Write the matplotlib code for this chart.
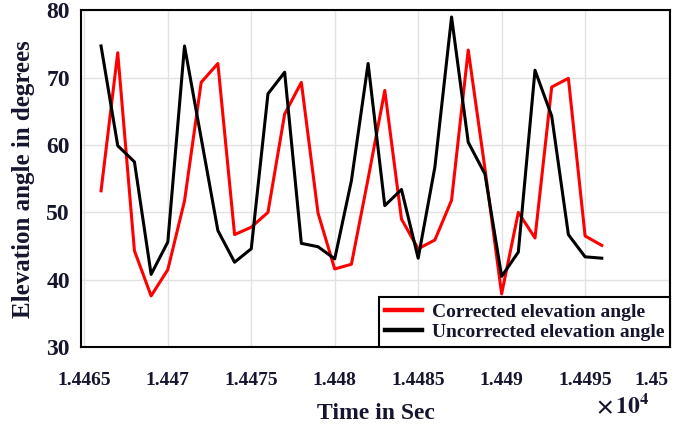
import matplotlib
matplotlib.use("Agg")
import matplotlib.pyplot as plt
from matplotlib.ticker import FuncFormatter

plt.rcParams["font.family"] = ["Liberation Serif", "DejaVu Serif"]
plt.rcParams["font.weight"] = "bold"
plt.rcParams["axes.labelweight"] = "bold"
plt.rcParams["mathtext.fontset"] = "stix"

# time in seconds, one sample per second
t = list(range(14466, 14497))
corrected = [53.2, 73.7, 44.3, 37.6, 41.5, 51.7, 69.3, 72.1, 46.7, 47.8,
             50.0, 64.6, 69.3, 49.9, 41.6, 42.3, 55.0, 68.1, 49.0, 44.6,
             45.9, 51.8, 74.1, 56.5, 37.9, 50.0, 46.2, 68.6, 69.9, 46.5, 45.1]
uncorrected = [74.7, 59.9, 57.5, 40.8, 45.6, 74.7, 61.0, 47.3, 42.6, 44.6,
               67.6, 70.8, 45.4, 44.9, 43.1, 54.7, 72.1, 51.0, 53.4, 43.2,
               56.7, 79.0, 60.4, 55.7, 40.5, 44.1, 71.1, 64.3, 46.7, 43.4, 43.2]
xticks = [14465, 14470, 14475, 14480, 14485, 14490, 14495, 14500]
yticks = [30, 40, 50, 60, 70, 80]

TXT = "#15152e"

fig = plt.figure(figsize=(6.78, 4.28), dpi=100)
ax = fig.add_axes([0.1195, 0.189, 0.869, 0.787])

ax.plot(t, corrected, color="#ff0000", lw=2.2, label="Corrected elevation angle")
ax.plot(t, uncorrected, color="#000000", lw=2.2, label="Uncorrected elevation angle")

ax.set_xlim(14464.8, 14500.1)
ax.set_ylim(30, 80)
ax.set_xticks(xticks)
ax.set_yticks(yticks)
ax.xaxis.set_major_formatter(FuncFormatter(lambda v, p: f"{v / 1e4:g}"))
ax.tick_params(axis="x", length=0, pad=18, labelsize=14, labelcolor=TXT)
ax.tick_params(axis="y", length=0, pad=8, labelsize=17, labelcolor=TXT)
ax.get_xticklabels()[-1].set_horizontalalignment("right")
ax.grid(color="#e2e2e2", lw=1.0)
for s in ax.spines.values():
    s.set_linewidth(1.5)
    s.set_color("black")

ax.set_ylabel("Elevation angle in degrees", fontsize=18, color=TXT, labelpad=8)
ax.set_xlabel("Time in Sec", fontsize=17, color=TXT, labelpad=10)
fig.text(0.958, 0.022, r"$\times\,10^4$", fontsize=17, color=TXT, ha="right", va="bottom")

leg = ax.legend(loc="lower right", borderaxespad=0, fancybox=False,
                framealpha=1, edgecolor="black", fontsize=14,
                handlelength=1.9, handletextpad=0.5, labelspacing=0.15,
                borderpad=0.3)
leg.get_frame().set_linewidth(1.5)
for line in leg.get_lines():
    line.set_linewidth(3.2)
for txt in leg.get_texts():
    txt.set_color(TXT)

fig.savefig("out.png", dpi=100)
